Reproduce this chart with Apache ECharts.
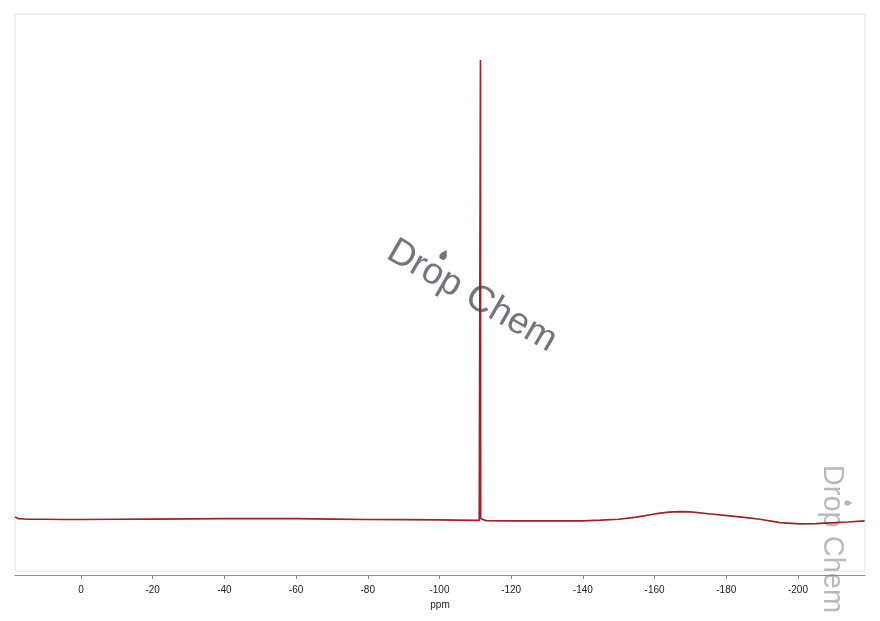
<!DOCTYPE html>
<html>
<head>
<meta charset="utf-8">
<script src="https://cdn.jsdelivr.net/npm/echarts@6/dist/echarts.min.js"></script>
<style>
html,body{margin:0;padding:0;background:#fff;}
#chart{width:880px;height:621px;}
</style>
</head>
<body>
<div id="chart"></div>
<script>
// chemical shift (ppm) and intensity (relative)
const ppm = [18.4, 17.5, 15.6, 10, 5, 0, -10, -20, -30, -40, -50, -60, -70, -80, -90, -100, -105, -110, -111.1, -111.38, -111.44, -111.5, -111.8, -112.1, -112.4, -113, -120, -130, -140, -145, -150, -155, -160, -164, -167, -170, -175, -181, -185, -189.4, -195, -200.5, -205, -209, -214, -218.6];
const intensity = [0.65, 0.3, 0.2, 0.15, 0.1, 0.1, 0.15, 0.2, 0.25, 0.3, 0.3, 0.3, 0.2, 0.1, 0.05, 0.0, -0.05, -0.1, -0.1, 0.2, 100, 0.3, 0.6, 0.1, -0.1, -0.15, -0.2, -0.2, -0.2, -0.05, 0.15, 0.6, 1.3, 1.7, 1.82, 1.75, 1.35, 0.87, 0.55, 0.15, -0.59, -0.87, -0.82, -0.65, -0.45, -0.2];
const tickValues = [0, -20, -40, -60, -80, -100, -120, -140, -160, -180, -200];
const axisName = 'ppm';
const watermark = 'Drop Chem';

const data = ppm.map((p, i) => [p, intensity[i]]);

const chart = echarts.init(document.getElementById('chart'));

function drop(cx, cy, s, color) {
  return [
    {type: 'circle', x: cx, y: cy, shape: {cx: 0, cy: 0, r: 3 * s}, style: {fill: color}},
    {type: 'polygon', x: cx, y: cy, shape: {points: [[-2.6 * s, -1.5 * s], [0, -6 * s], [2.6 * s, -1.5 * s]]}, style: {fill: color}}
  ];
}

chart.setOption({
  animation: false,
  backgroundColor: '#fff',
  grid: {left: 15, right: 15, top: 14, bottom: 50, show: true, borderColor: '#e2e2e2', borderWidth: 1, backgroundColor: 'transparent'},
  xAxis: {
    type: 'value',
    inverse: true,
    min: -218.7,
    max: 18.4,
    offset: 4,
    name: axisName,
    nameLocation: 'middle',
    nameGap: 21,
    nameTextStyle: {fontSize: 10, color: '#222', fontFamily: 'Liberation Sans, Arial, sans-serif'},
    axisLine: {onZero: false, lineStyle: {color: '#8a8a8a', width: 1}},
    axisTick: {show: true, length: 4, lineStyle: {color: '#8a8a8a'}, customValues: tickValues},
    axisLabel: {fontSize: 10, color: '#222', margin: 10, fontFamily: 'Liberation Sans, Arial, sans-serif', customValues: tickValues},
    splitLine: {show: false}
  },
  yAxis: {
    type: 'value',
    min: -11.1,
    max: 110,
    show: false
  },
  series: [{
    type: 'line',
    data: data,
    showSymbol: false,
    smooth: false,
    lineStyle: {color: '#9e2226', width: 1.7},
    z: 5
  }],
  graphic: [
    {
      type: 'group',
      x: 472, y: 296,
      rotation: -Math.PI / 6,
      z: 1,
      children: [
        {type: 'text', x: 0, y: 0, style: {text: watermark, font: '37px "Liberation Sans", Arial, sans-serif', fill: '#72767c', align: 'center', verticalAlign: 'middle'}}
      ].concat(drop(-45, -20, 1.2, '#72767c'))
    },
    {
      type: 'group',
      x: 832, y: 539,
      rotation: -Math.PI / 2,
      z: 1,
      children: [
        {type: 'text', x: 0, y: 0, style: {text: watermark, font: '29px "Liberation Sans", Arial, sans-serif', fill: '#b9b9b9', align: 'center', verticalAlign: 'middle'}}
      ].concat(drop(-36, -15, 0.9, '#b9b9b9'))
    }
  ]
});
</script>
</body>
</html>
